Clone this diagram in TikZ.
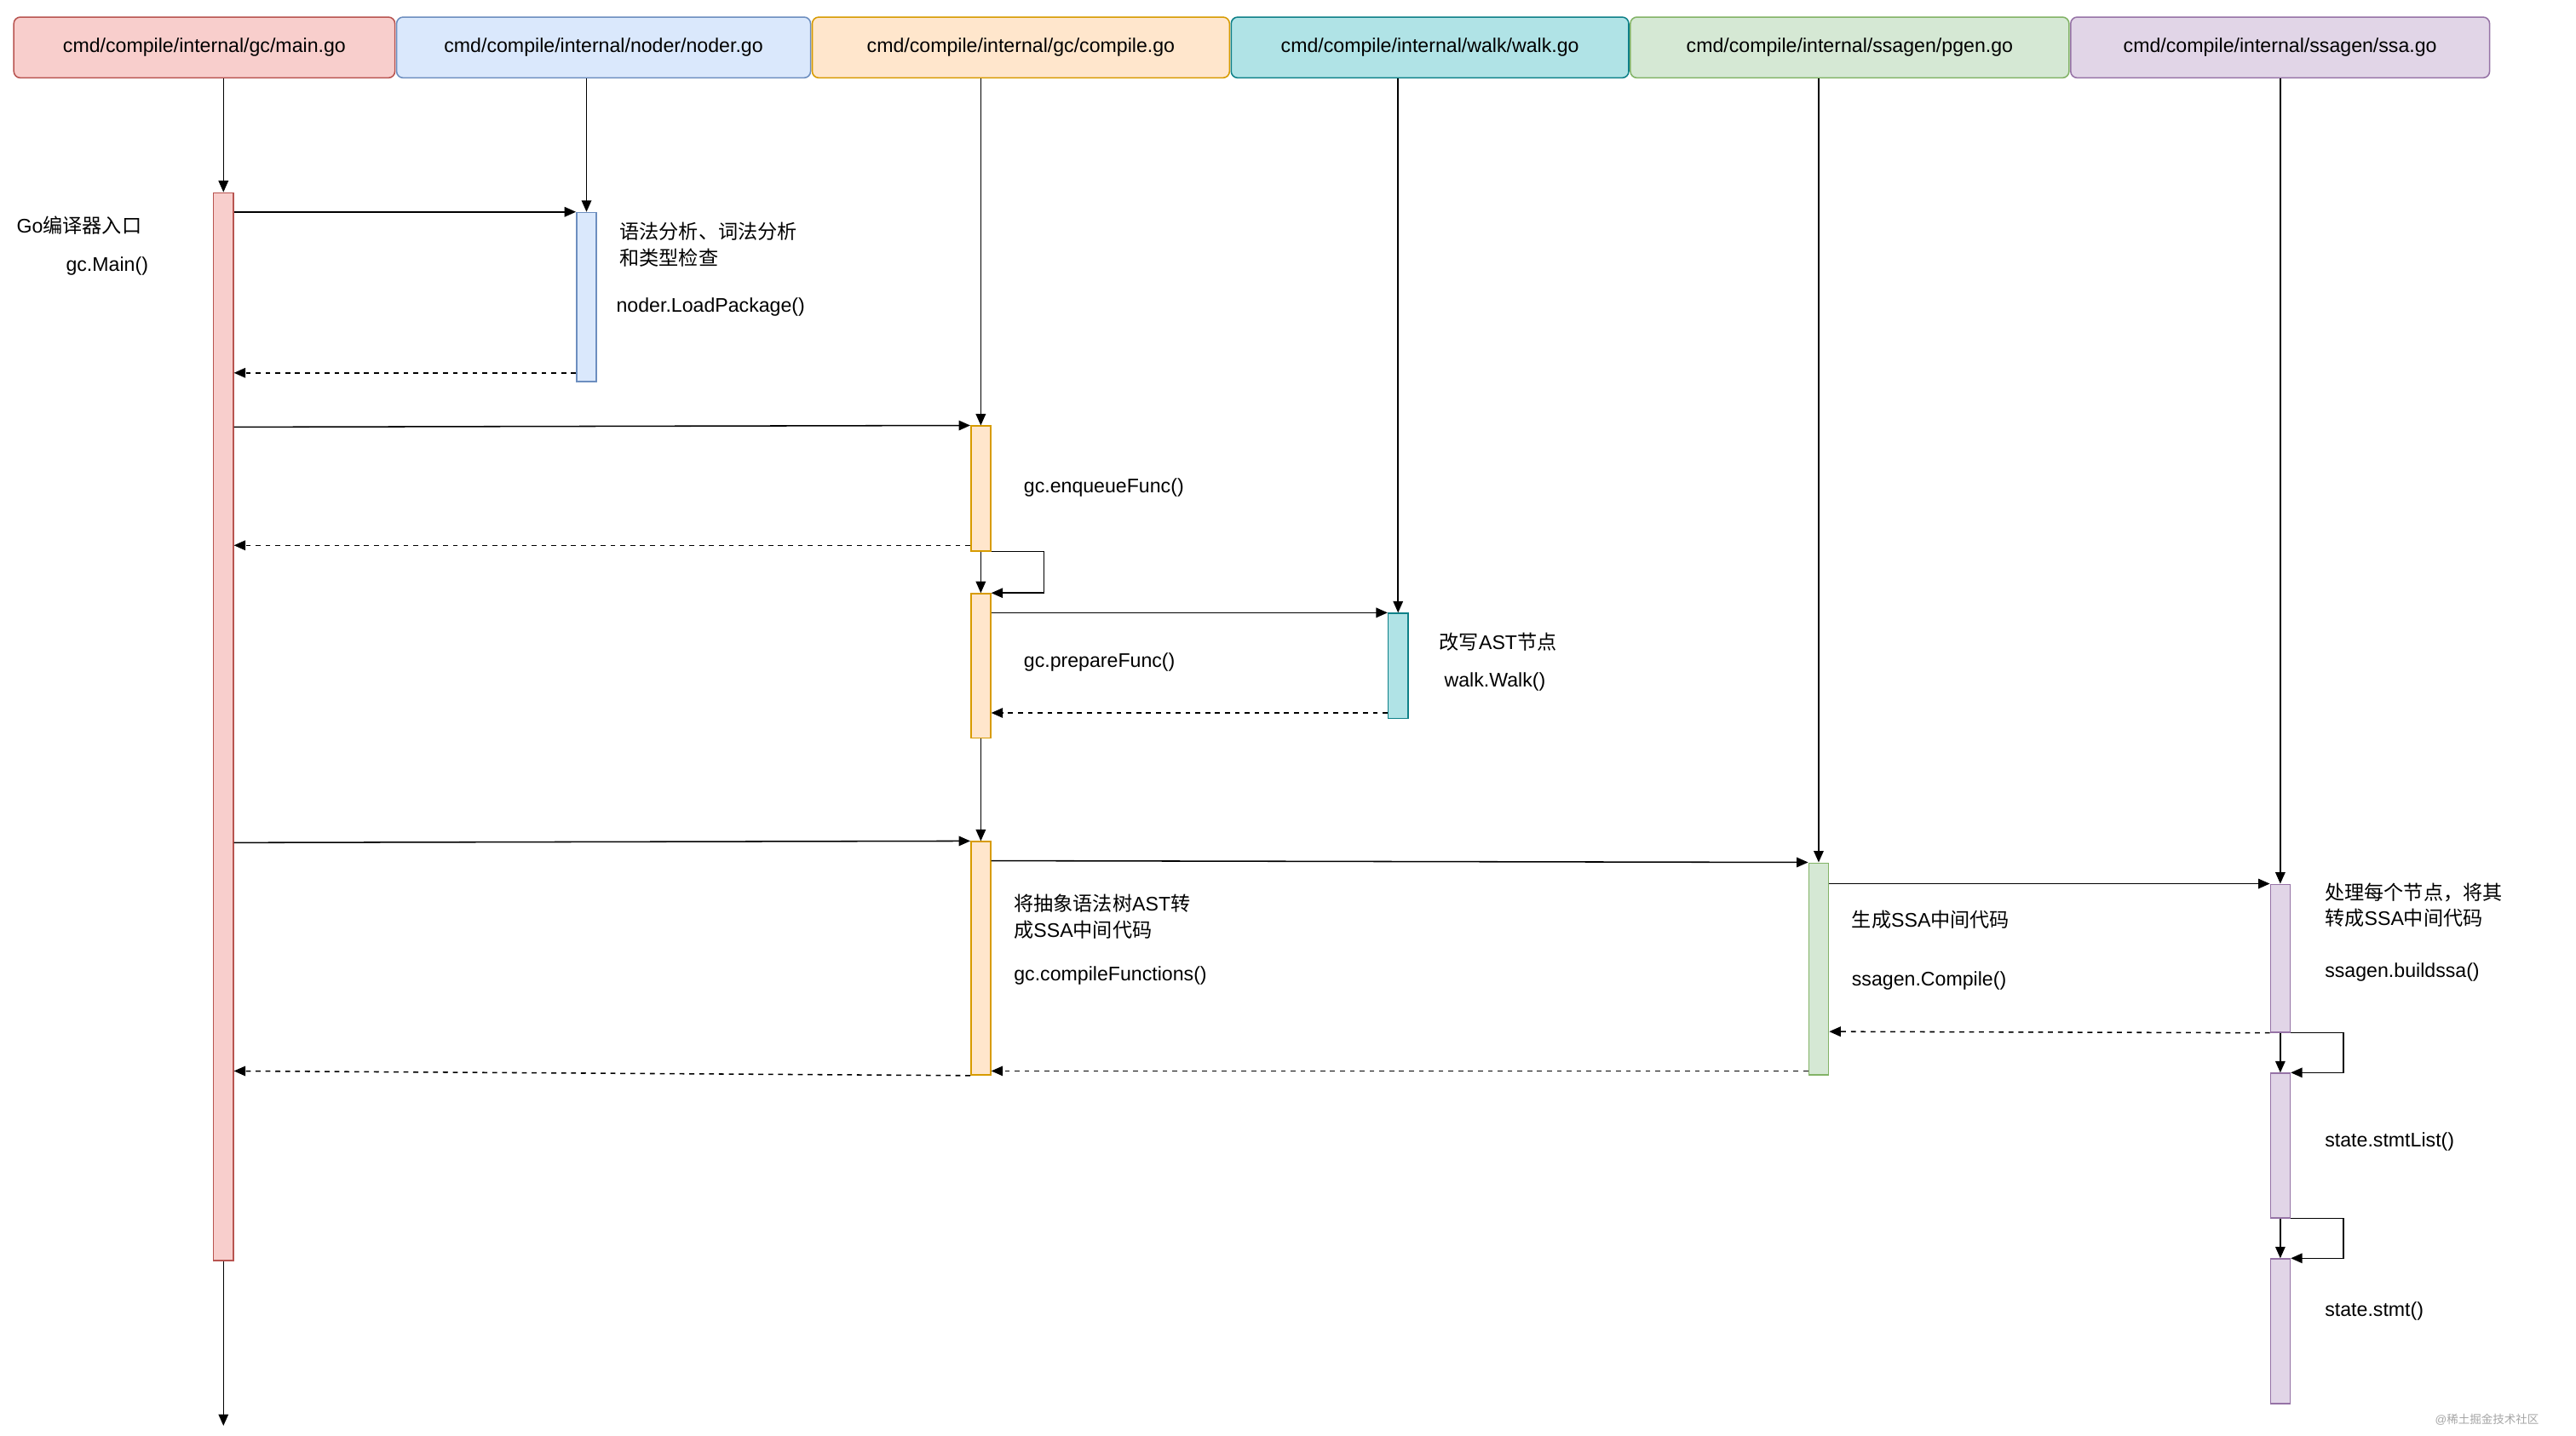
\documentclass[tikz,border=0pt]{standalone}
\usetikzlibrary{arrows.meta}
\usepackage{fontspec}
\setmainfont{Liberation Sans}
\newfontfamily\cjk{Noto Sans CJK SC}
\definecolor{rF}{HTML}{F8CECC}\definecolor{rS}{HTML}{B85450}
\definecolor{bF}{HTML}{DAE8FC}\definecolor{bS}{HTML}{6C8EBF}
\definecolor{oF}{HTML}{FFE6CC}\definecolor{oS}{HTML}{D79B00}
\definecolor{tF}{HTML}{B0E3E6}\definecolor{tS}{HTML}{0E8088}
\definecolor{gF}{HTML}{D5E8D4}\definecolor{gS}{HTML}{82B366}
\definecolor{pF}{HTML}{E1D5E7}\definecolor{pS}{HTML}{9673A6}
\begin{document}
\begin{tikzpicture}[x=1pt,y=-1pt,
  hdr/.style={draw,rounded corners=4pt,minimum height=37pt,inner sep=0pt,font=\fontsize{12}{14}\selectfont,anchor=north west,line width=0.8pt},
  act/.style={draw,minimum width=12pt,inner sep=0pt,anchor=north,line width=0.8pt},
  msg/.style={-{Triangle[length=7pt,width=6pt]},line width=0.8pt},
  ret/.style={msg,dashed},
  lbl/.style={anchor=west,align=left,font=\fontsize{12}{16}\selectfont,inner sep=0pt}]
\useasboundingbox (0,0) rectangle (1568,874);
\fill[white] (0,0) rectangle (1568,874);
% headers
\node[hdr,fill=rF,draw=rS,minimum width=232pt] (h1) at (8,10) {cmd/compile/internal/gc/main.go};
\node[hdr,fill=bF,draw=bS,minimum width=252pt] (h2) at (241,10) {cmd/compile/internal/noder/noder.go};
\node[hdr,fill=oF,draw=oS,minimum width=254pt] (h3) at (494,10) {cmd/compile/internal/gc/compile.go};
\node[hdr,fill=tF,draw=tS,minimum width=242pt] (h4) at (749,10) {cmd/compile/internal/walk/walk.go};
\node[hdr,fill=gF,draw=gS,minimum width=267pt] (h5) at (992,10) {cmd/compile/internal/ssagen/pgen.go};
\node[hdr,fill=pF,draw=pS,minimum width=255pt] (h6) at (1260,10) {cmd/compile/internal/ssagen/ssa.go};
% activations
\node[act,fill=rF,draw=rS,minimum height=650pt] (a1) at (136,117) {};
\node[act,fill=bF,draw=bS,minimum height=103pt] (a2) at (357,129) {};
\node[act,fill=oF,draw=oS,minimum height=76pt] (a3) at (597,259) {};
\node[act,fill=oF,draw=oS,minimum height=88pt] (a4) at (597,361) {};
\node[act,fill=oF,draw=oS,minimum height=142pt] (a5) at (597,512) {};
\node[act,fill=tF,draw=tS,minimum height=64pt] (a6) at (851,373) {};
\node[act,fill=gF,draw=gS,minimum height=129pt] (a7) at (1107,525) {};
\node[act,fill=pF,draw=pS,minimum height=90pt] (a8) at (1388,538) {};
\node[act,fill=pF,draw=pS,minimum height=88pt] (a9) at (1388,653) {};
\node[act,fill=pF,draw=pS,minimum height=88pt] (a10) at (1388,766) {};
\coordinate (end1) at (136,868);
% lifelines
\draw[msg] (h1.south -| a1.north) -- (a1.north);
\draw[msg] (a1.south) -- (end1);
\draw[msg] (h2.south -| a2.north) -- (a2.north);
\draw[msg] (h3.south -| a3.north) -- (a3.north);
\draw[msg] (a3.south) -- (a4.north);
\draw[msg] (a4.south) -- (a5.north);
\draw[msg] (h4.south -| a6.north) -- (a6.north);
\draw[msg] (h5.south -| a7.north) -- (a7.north);
\draw[msg] (h6.south -| a8.north) -- (a8.north);
\draw[msg] (a8.south) -- (a9.north);
\draw[msg] (a9.south) -- (a10.north);
% messages
\draw[msg] (a1.east |- 0,129) -- (a2.north west);
\draw[ret] (a2.west |- 0,227) -- (a1.east |- 0,227);
\draw[msg] (a1.east |- 0,260) -- (a3.north west);
\draw[ret] (a3.west |- 0,332) -- (a1.east |- 0,332);
\draw[msg] (a3.south east) -- ++(32,0) |- (a4.north east);
\draw[msg] (a4.east |- 0,373) -- (a6.north west);
\draw[ret] (a6.west |- 0,434) -- (a4.east |- 0,434);
\draw[msg] (a1.east |- 0,513) -- (a5.north west);
\draw[msg] (a5.east |- 0,524) -- (a7.north west);
\draw[msg] (a7.east |- 0,538) -- (a8.north west);
\draw[ret] (a8.south west) -- (a7.east |- 0,628);
\draw[ret] (a7.west |- 0,652) -- (a5.east |- 0,652);
\draw[ret] (a5.south west) -- (a1.east |- 0,652);
\draw[msg] (a8.south east) -- ++(32,0) |- (a9.north east);
\draw[msg] (a9.south east) -- ++(32,0) |- (a10.north east);
% labels
\node[lbl] (t1) at (10,137) {Go{\cjk 编译器入口}};
\node[lbl] (t2) at (40,162) {gc.Main()};
\node[lbl] (t3) at (377,149) {{\cjk 语法分析、词法分析}\\{\cjk 和类型检查}};
\node[lbl] (t4) at (375,187) {noder.LoadPackage()};
\node[lbl] (t5) at (623,297) {gc.enqueueFunc()};
\node[lbl] (t6) at (623,403) {gc.prepareFunc()};
\node[lbl] (t7) at (876,391) {{\cjk 改写}AST{\cjk 节点}};
\node[lbl] (t8) at (879,415) {walk.Walk()};
\node[lbl] (t9) at (617,558) {{\cjk 将抽象语法树}AST{\cjk 转}\\{\cjk 成}SSA{\cjk 中间代码}};
\node[lbl] (t10) at (617,594) {gc.compileFunctions()};
\node[lbl] (t11) at (1127,560) {{\cjk 生成}SSA{\cjk 中间代码}};
\node[lbl] (t12) at (1127,597) {ssagen.Compile()};
\node[lbl] (t13) at (1415,551) {{\cjk 处理每个节点，将其}\\{\cjk 转成}SSA{\cjk 中间代码}};
\node[lbl] (t14) at (1415,592) {ssagen.buildssa()};
\node[lbl] (t15) at (1415,695) {state.stmtList()};
\node[lbl] (t16) at (1415,798) {state.stmt()};
\node[anchor=west,inner sep=0pt,text=black!35,font=\fontsize{7}{8}\selectfont] (wm) at (1482,864) {@{\cjk 稀土掘金技术社区}};
\end{tikzpicture}
\end{document}
